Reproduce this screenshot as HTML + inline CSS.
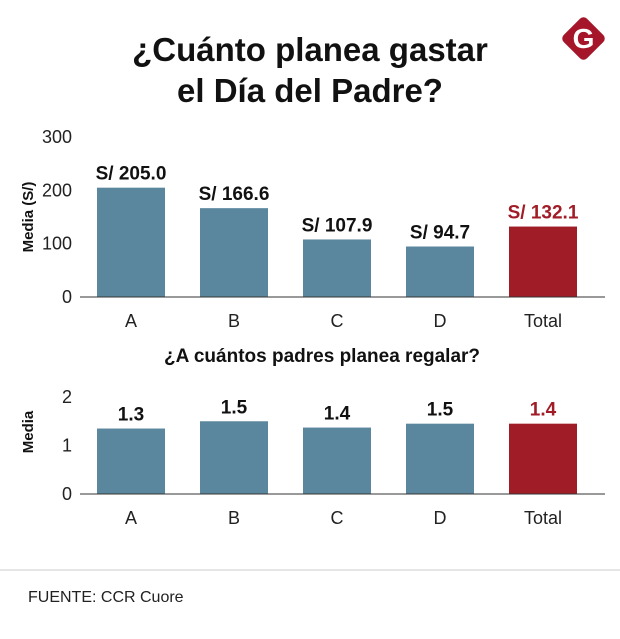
<!DOCTYPE html>
<html><head><meta charset="utf-8"><style>
body{margin:0;background:#fff;font-family:"Liberation Sans",sans-serif}
svg text{font-family:"Liberation Sans",sans-serif}
</style></head><body>
<svg width="620" height="634" viewBox="0 0 620 634" xmlns="http://www.w3.org/2000/svg">
<text x="310" y="61" text-anchor="middle" font-size="33" font-weight="bold" fill="#111">¿Cuánto planea gastar</text>
<text x="310" y="102" text-anchor="middle" font-size="33" font-weight="bold" fill="#111">el Día del Padre?</text>
<g>
<rect x="567" y="22" width="33" height="33" rx="5" fill="#a5162a" transform="rotate(45 583.5 38.5)"/>
<text x="583.5" y="48" text-anchor="middle" font-size="28" font-weight="bold" fill="#fff">G</text>
</g>
<g id="top"></g>
<text x="322" y="362" text-anchor="middle" font-size="19" font-weight="bold" fill="#111">¿A cuántos padres planea regalar?</text>
<g id="bot"></g>
<line x1="0" y1="570" x2="620" y2="570" stroke="#ccc"/>
<text x="28" y="602" font-size="16" fill="#222">FUENTE: CCR Cuore</text>
</svg>
<script>
const categories=["A","B","C","D","Total"];
const spend=[205.0,166.6,107.9,94.7,132.1];
const spendLabels=["S/ 205.0","S/ 166.6","S/ 107.9","S/ 94.7","S/ 132.1"];
const spendTicks=[0,100,200,300];
const fathers=[1.35,1.5,1.37,1.45,1.45];
const fathersLabels=["1.3","1.5","1.4","1.5","1.4"];
const fathersTicks=[0,1,2];
const NS="http://www.w3.org/2000/svg";
function mk(p,t,a){const e=document.createElementNS(NS,t);for(const k in a)e.setAttribute(k,a[k]);p.appendChild(e);return e;}
function draw(g,vals,labels,ticks,base,pxPer,yTitle,ty){
 const x=i=>97+i*103;const y=v=>base-v*pxPer;
 ticks.forEach(t=>{const e=mk(g,'text',{x:72,y:y(t)+6,'text-anchor':'end','font-size':18,fill:'#222'});e.textContent=t;
 
 });
 const yt=mk(g,'text',{x:0,y:0,transform:`translate(33 ${ty}) rotate(-90)`,'text-anchor':'middle','font-size':15,'font-weight':'bold',fill:'#111'});yt.textContent=yTitle;
 
 
 vals.forEach((v,i)=>{const last=i===vals.length-1;const c=last?'#a01c26':'#5b879e';
 const r=mk(g,'rect',{x:x(i),y:y(v),width:68,height:base-y(v),fill:c});
 
 
 const l=mk(g,'text',{x:x(i)+34,y:y(v)-8,'text-anchor':'middle','font-size':19,'font-weight':'bold',fill:last?'#a01c26':'#111'});l.textContent=labels[i];
 
 
 const cl=mk(g,'text',{x:x(i)+34,y:base+30,'text-anchor':'middle','font-size':18,fill:'#222'});cl.textContent=categories[i];
 
 });
 const ax=mk(g,'line',{x1:80,y1:base,x2:605,y2:base,stroke:'#333','stroke-width':1});
 
 
}
draw(document.getElementById('top'),spend,spendLabels,spendTicks,297,0.5333,'Media (S/)',217);
draw(document.getElementById('bot'),fathers,fathersLabels,fathersTicks,494,48.5,'Media',432);
</script>
</body></html>
